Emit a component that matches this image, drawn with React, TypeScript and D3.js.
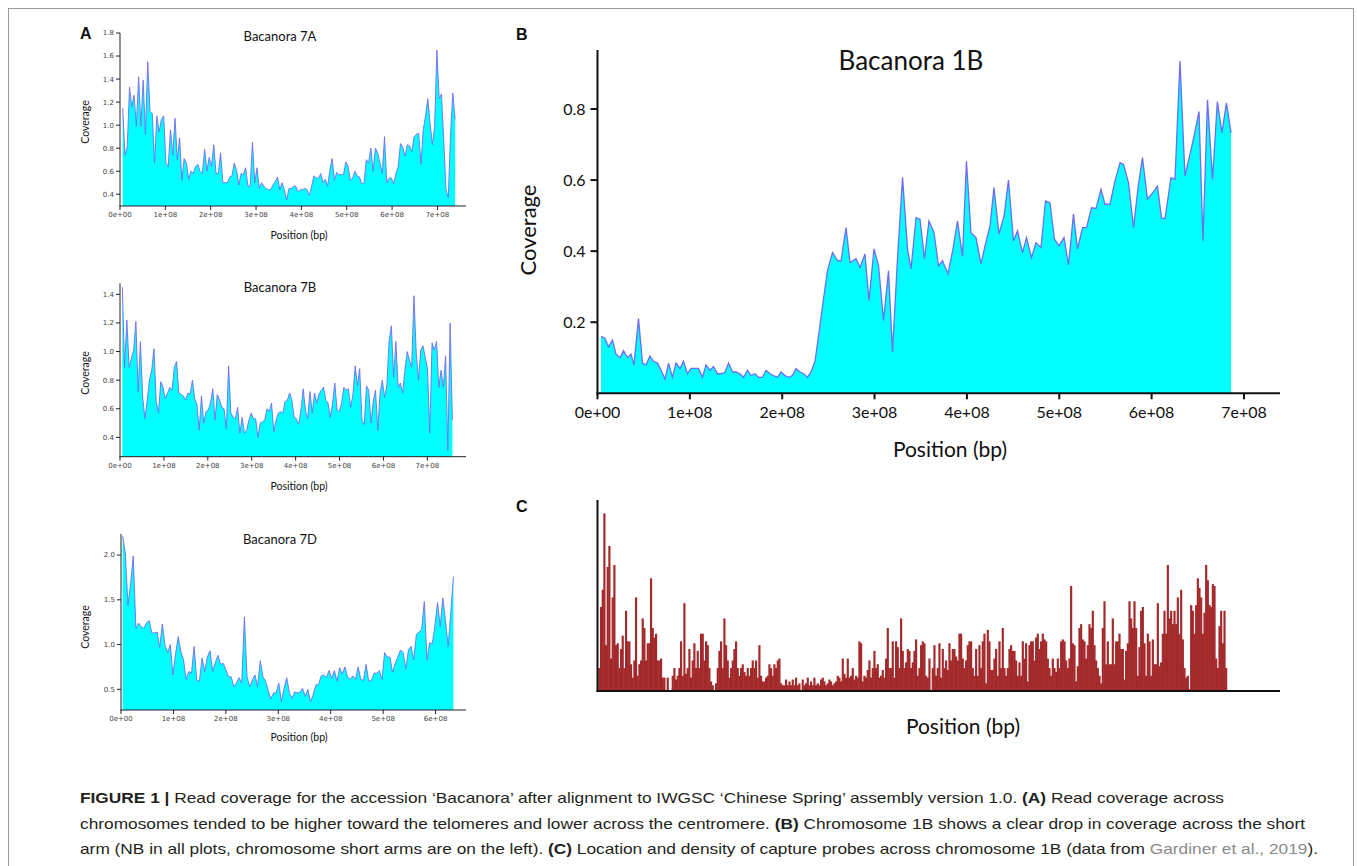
import React from 'react';
import * as d3 from 'd3';

const W = 1357;
const H = 866;

// coverage windows, evenly spaced between first and last window (Mb)
const span7A = [5.9, 739];
const cov7A = [
  1.15, 0.74, 0.81, 1.33, 1.16, 1.26, 0.99, 1.42, 0.99, 1.39, 0.92, 1.55, 1.12, 1.1, 0.67, 1.08, 0.94, 1.05, 1.08, 0.67,
  0.64, 0.96, 0.74, 1.06, 0.7, 0.89, 0.52, 0.71, 0.67, 0.53, 0.6, 0.58, 0.64, 0.66, 0.6, 0.58, 0.79, 0.6, 0.72, 0.64,
  0.83, 0.58, 0.58, 0.76, 0.5, 0.5, 0.5, 0.55, 0.56, 0.67, 0.61, 0.48, 0.58, 0.57, 0.63, 0.47, 0.47, 0.85, 0.5, 0.63,
  0.45, 0.5, 0.47, 0.45, 0.44, 0.44, 0.48, 0.51, 0.55, 0.44, 0.5, 0.44, 0.35, 0.45, 0.45, 0.47, 0.47, 0.42, 0.44, 0.44,
  0.45, 0.44, 0.39, 0.47, 0.56, 0.54, 0.54, 0.58, 0.5, 0.53, 0.47, 0.61, 0.71, 0.52, 0.59, 0.57, 0.57, 0.57, 0.68, 0.64,
  0.52, 0.54, 0.6, 0.56, 0.55, 0.49, 0.5, 0.7, 0.67, 0.8, 0.6, 0.8, 0.76, 0.67, 0.58, 0.9, 0.5, 0.54, 0.54, 0.49,
  0.58, 0.64, 0.84, 0.81, 0.73, 0.83, 0.82, 0.77, 0.9, 0.92, 0.93, 0.66, 0.96, 1.08, 1.23, 1.02, 0.83, 0.99, 1.65, 1.23,
  1.27, 0.87, 0.44, 0.37, 0.93, 1.28, 1.05,
];
const span7B = [5.3, 757];
const cov7B = [
  1.45, 0.89, 1.22, 0.89, 0.95, 1.01, 1.21, 0.72, 1.07, 0.68, 0.53, 0.66, 0.8, 0.87, 1.02, 0.65, 0.57, 0.79, 0.75, 0.67,
  0.71, 0.75, 0.73, 0.89, 0.93, 0.71, 0.7, 0.69, 0.66, 0.71, 0.7, 0.8, 0.67, 0.63, 0.45, 0.69, 0.5, 0.58, 0.59, 0.64,
  0.74, 0.52, 0.7, 0.66, 0.61, 0.6, 0.46, 0.9, 0.57, 0.54, 0.53, 0.61, 0.43, 0.54, 0.43, 0.45, 0.52, 0.57, 0.53, 0.53,
  0.4, 0.5, 0.51, 0.52, 0.6, 0.58, 0.64, 0.44, 0.52, 0.57, 0.58, 0.57, 0.65, 0.66, 0.71, 0.66, 0.54, 0.53, 0.49, 0.59,
  0.74, 0.59, 0.53, 0.72, 0.57, 0.71, 0.64, 0.7, 0.73, 0.75, 0.66, 0.64, 0.54, 0.64, 0.78, 0.59, 0.58, 0.64, 0.75, 0.73,
  0.74, 0.61, 0.7, 0.9, 0.76, 0.88, 0.52, 0.49, 0.76, 0.73, 0.5, 0.65, 0.73, 0.45, 0.71, 0.8, 0.68, 0.76, 1.07, 1.18,
  0.82, 1.07, 0.75, 0.78, 0.71, 0.87, 1.0, 0.94, 0.89, 1.39, 0.99, 0.8, 1.01, 1.04, 0.96, 0.88, 0.43, 1.06, 1.01, 1.07,
  0.75, 0.87, 0.75, 0.97, 0.31, 1.2, 0.52,
];
const span7D = [3.2, 634];
const cov7D = [
  2.21, 2.02, 1.44, 1.68, 1.99, 1.18, 1.24, 1.2, 1.18, 1.24, 1.27, 1.13, 1.13, 1.14, 0.97, 1.23, 0.99, 0.91, 1.0, 0.66,
  0.9, 1.09, 0.92, 0.83, 0.61, 0.7, 0.68, 0.98, 0.6, 0.59, 0.85, 0.7, 0.86, 0.93, 0.7, 0.8, 0.88, 0.78, 0.79, 0.72,
  0.64, 0.64, 0.53, 0.57, 0.63, 0.57, 1.31, 0.64, 0.53, 0.6, 0.66, 0.53, 0.82, 0.64, 0.59, 0.49, 0.39, 0.46, 0.46, 0.57,
  0.36, 0.51, 0.63, 0.46, 0.4, 0.47, 0.46, 0.47, 0.51, 0.42, 0.5, 0.36, 0.44, 0.55, 0.55, 0.65, 0.66, 0.63, 0.71, 0.62,
  0.71, 0.59, 0.74, 0.67, 0.75, 0.64, 0.61, 0.65, 0.61, 0.75, 0.61, 0.6, 0.78, 0.59, 0.6, 0.68, 0.68, 0.71, 0.61, 0.91,
  0.86, 0.86, 0.69, 0.79, 0.86, 0.94, 0.91, 0.73, 0.94, 0.98, 0.83, 1.11, 1.14, 1.17, 1.48, 0.83, 1.02, 1.01, 1.21, 1.47,
  1.2, 1.52, 1.27, 0.98, 1.35, 1.76,
];

// chromosome 1B coverage: [position Mb, coverage]
const cov1B: [number, number][] = [
  [3.8, 0.16], [8.1, 0.155], [11.9, 0.13], [16.2, 0.15], [20.0, 0.11], [24.4, 0.1], [28.2, 0.12], [32.5, 0.1],
  [36.3, 0.11], [39.5, 0.08], [44.4, 0.21], [48.7, 0.085], [52.5, 0.08], [56.8, 0.105], [60.6, 0.09], [65.0, 0.085],
  [68.8, 0.065], [73.1, 0.04], [76.9, 0.085], [81.2, 0.045], [85.0, 0.085], [89.3, 0.07], [93.1, 0.09], [97.5, 0.055],
  [101.2, 0.07], [105.6, 0.07], [109.4, 0.07], [113.7, 0.045], [117.5, 0.08], [121.8, 0.065], [125.6, 0.075],
  [129.9, 0.055], [133.7, 0.055], [138.1, 0.06], [141.9, 0.085], [146.2, 0.06], [150.0, 0.06], [154.3, 0.055],
  [158.1, 0.045], [162.4, 0.065], [166.2, 0.05], [170.5, 0.055], [174.3, 0.045], [178.7, 0.045], [182.5, 0.065],
  [186.8, 0.055], [190.6, 0.05], [194.9, 0.045], [198.7, 0.06], [203.0, 0.05], [206.8, 0.045], [211.1, 0.05],
  [214.9, 0.07], [219.3, 0.06], [223.1, 0.055], [227.4, 0.045], [231.2, 0.06], [235.5, 0.09], [239.3, 0.16],
  [244.7, 0.265], [249.0, 0.345], [254.5, 0.396], [259.9, 0.373], [263.7, 0.373], [269.1, 0.466], [273.4, 0.368],
  [279.9, 0.379], [284.2, 0.354], [289.6, 0.392], [294.0, 0.261], [299.4, 0.406], [304.3, 0.359], [309.7, 0.205],
  [315.1, 0.345], [319.4, 0.116], [324.8, 0.378], [330.3, 0.607], [335.7, 0.406], [339.5, 0.35], [344.9, 0.494],
  [349.2, 0.49], [354.1, 0.378], [358.9, 0.485], [364.4, 0.452], [369.2, 0.359], [373.6, 0.373], [379.5, 0.336],
  [384.9, 0.406], [389.8, 0.485], [395.2, 0.385], [399.5, 0.653], [404.4, 0.452], [409.8, 0.438], [415.3, 0.364],
  [419.6, 0.415], [425.0, 0.471], [429.3, 0.579], [434.7, 0.448], [440.2, 0.499], [445.0, 0.6], [450.4, 0.429],
  [454.8, 0.457], [460.2, 0.396], [464.5, 0.438], [469.9, 0.382], [474.8, 0.424], [480.2, 0.41], [485.1, 0.541],
  [489.9, 0.536], [494.8, 0.434], [499.7, 0.415], [505.1, 0.438], [510.0, 0.361], [515.4, 0.504], [519.7, 0.406],
  [525.2, 0.466], [529.5, 0.466], [534.9, 0.522], [539.8, 0.52], [545.2, 0.574], [549.5, 0.532], [554.9, 0.532],
  [560.3, 0.597], [565.8, 0.649], [569.6, 0.644], [575.0, 0.592], [580.4, 0.466], [585.3, 0.579], [590.1, 0.663],
  [595.5, 0.546], [599.9, 0.56], [606.4, 0.583], [610.7, 0.492], [614.5, 0.492], [621.0, 0.607], [625.3, 0.602],
  [630.7, 0.935], [636.1, 0.611], [645.9, 0.723], [651.3, 0.793], [655.6, 0.429], [660.5, 0.826], [665.9, 0.602],
  [671.2, 0.821], [676.1, 0.733], [681.0, 0.817], [686.0, 0.733],
];

// capture probes per bin along 1B
const probeStart = 0.87; // Mb
const probeBin = 1.805; // Mb
const probes1B = [
  12, 44, 53, 93, 24, 65, 76, 17, 49, 66, 24, 25, 12, 22, 29, 12, 42, 26, 26, 14,
  7, 16, 49, 8, 14, 16, 38, 33, 16, 25, 25, 59, 33, 28, 30, 16, 16, 17, 7, 7,
  0, 7, 0, 0, 8, 12, 6, 8, 12, 26, 8, 46, 9, 12, 22, 7, 16, 25, 12, 21,
  12, 30, 30, 16, 26, 24, 12, 5, 3, 0, 4, 12, 21, 26, 12, 38, 24, 16, 7, 12,
  16, 22, 26, 12, 8, 12, 14, 10, 8, 12, 8, 12, 16, 12, 16, 7, 24, 8, 5, 5,
  7, 8, 14, 12, 8, 14, 12, 16, 17, 4, 3, 3, 6, 3, 5, 3, 6, 3, 7, 3,
  4, 0, 6, 3, 4, 7, 3, 5, 3, 7, 3, 4, 3, 6, 7, 5, 3, 4, 6, 5,
  3, 4, 5, 8, 7, 5, 17, 9, 7, 17, 7, 8, 12, 6, 8, 7, 26, 25, 5, 8,
  7, 11, 16, 7, 12, 21, 12, 14, 7, 8, 11, 7, 17, 33, 12, 12, 26, 7, 26, 23,
  12, 38, 21, 12, 15, 22, 21,
  12, 15, 21, 27, 8, 12, 24, 26, 25, 8, 7, 17, 0, 12, 24, 8, 12, 25, 7, 22,
  12, 16, 11, 25, 16, 22, 22, 18, 16, 30, 30, 17, 12, 16, 24, 26, 26, 12, 8, 22,
  8, 24, 12, 26, 30, 4, 32, 26, 11, 11, 17, 22, 8, 26, 12, 33, 12, 8, 12, 22,
  24, 21, 21, 16, 8, 15, 8, 26, 17, 25, 5, 24, 26, 26, 16, 28, 30, 22, 26, 30,
  27, 26, 17, 12, 8, 17, 12, 10, 17, 12, 26, 27, 26, 16, 12, 17, 55, 25, 24, 5,
  13, 33, 35, 27, 26, 17, 24, 35, 33, 42, 24, 16, 12, 8, 4, 33, 47, 14, 26, 14,
  14, 38, 14, 26, 26, 30, 22, 22, 6, 21, 25, 47, 38, 33, 47, 33, 8, 23, 42, 44,
  25, 8, 30, 26, 8, 27, 14, 14, 46, 13, 15, 30, 42, 30, 66, 38, 42, 35, 42, 35,
  49, 30, 53, 27, 12, 7, 8, 1, 45, 42, 30, 45, 59, 54, 49, 30, 41, 66, 58, 45,
  44, 56, 55, 17, 12, 34, 42, 25, 42, 12,
];

const posTicks = [0, 1, 2, 3, 4, 5, 6, 7]; // x 1e8 bp
const posTickLabels = ['0e+00', '1e+08', '2e+08', '3e+08', '4e+08', '5e+08', '6e+08', '7e+08'];
const yTicks7A = [0.4, 0.6, 0.8, 1.0, 1.2, 1.4, 1.6, 1.8];
const yTicks7B = [0.4, 0.6, 0.8, 1.0, 1.2, 1.4];
const yTicks7D = [0.5, 1.0, 1.5, 2.0];
const yTicks1B = [0.2, 0.4, 0.6, 0.8];

const FILL = '#00ffff';
const EDGE = '#6d6df2';
const LATO = 'Lato, "Open Sans", sans-serif';
const fmt1 = d3.format('.1f');

function spread(span: number[], vals: number[]): [number, number][] {
  const step = (span[1] - span[0]) / (vals.length - 1);
  return vals.map((v, i) => [span[0] + i * step, v] as [number, number]);
}

type PanelProps = {
  pts: [number, number][];
  left: number; right: number; top: number; bottom: number;
  xMax: number; yMin: number; yMax: number;
  yTicks: number[]; nX: number;
  title: string; titleX: number; titleY: number;
  xLabelX: number; xLabelY: number; yLabelX: number; yLabelY: number;
  big?: boolean;
};

function CoveragePanel(p: PanelProps) {
  const x = d3.scaleLinear().domain([0, p.xMax * 1e6]).range([p.left, p.right]);
  const y = d3.scaleLinear().domain([p.yMin, p.yMax]).range([p.bottom, p.top]);
  const area = d3.area<[number, number]>().x(d => x(d[0] * 1e6)).y0(p.bottom).y1(d => y(d[1]));
  const line = d3.line<[number, number]>().x(d => x(d[0] * 1e6)).y(d => y(d[1]));
  const big = !!p.big;
  const sw = big ? 2 : 1;
  const axisCol = big ? '#111' : '#222';
  const tickFont = big ? LATO : '"DejaVu Sans", sans-serif';
  const tickSize = big ? 16 : 7;
  const tlY = big ? 7 : 4;
  const tlX = big ? 6 : 4;
  return (
    <g>
      <path d={area(p.pts) || ''} fill={FILL} />
      <path d={line(p.pts) || ''} fill="none" stroke={EDGE} strokeWidth={big ? 1.3 : 0.9} />
      <line x1={p.left} x2={p.left} y1={p.top} y2={p.bottom + sw / 2} stroke={axisCol} strokeWidth={sw} />
      <line x1={p.left - sw / 2} x2={p.right} y1={p.bottom} y2={p.bottom} stroke={axisCol} strokeWidth={sw} />
      {p.yTicks.map(t => (
        <g key={'y' + t}>
          <line x1={p.left - tlY} x2={p.left} y1={y(t)} y2={y(t)} stroke={axisCol} strokeWidth={sw} />
          <text x={p.left - tlY - (big ? 5 : 2)} y={y(t)} dy="0.35em" textAnchor="end"
            fontFamily={tickFont} fontSize={tickSize} fill={big ? '#111' : '#444'}>{fmt1(t)}</text>
        </g>
      ))}
      {posTicks.slice(0, p.nX).map((t, i) => (
        <g key={'x' + t}>
          <line x1={x(t * 1e8)} x2={x(t * 1e8)} y1={p.bottom} y2={p.bottom + tlX} stroke={axisCol} strokeWidth={sw} />
          <text x={x(t * 1e8)} y={p.bottom + (big ? 25 : 11)} textAnchor="middle"
            fontFamily={tickFont} fontSize={tickSize} fill={big ? '#111' : '#444'}>{posTickLabels[i]}</text>
        </g>
      ))}
      <text x={p.titleX} y={p.titleY} textAnchor="middle" fontFamily={LATO}
        fontSize={big ? 26 : 13} fill="#111">{p.title}</text>
      <text x={p.xLabelX} y={p.xLabelY} textAnchor="middle" fontFamily={LATO}
        fontSize={big ? 21 : 10.5} fill="#111">Position (bp)</text>
      <text transform={`translate(${p.yLabelX},${p.yLabelY}) rotate(-90)`} textAnchor="middle"
        dominantBaseline="central" fontFamily={LATO} fontSize={big ? 22 : 10.5} fill="#111">Coverage</text>
    </g>
  );
}

function ProbePanel() {
  const left = 597.5, right = 1280, top = 500, bottom = 691;
  const x = d3.scaleLinear().domain([0, 739e6]).range([left, right]);
  const y = d3.scaleLinear().domain([0, 100]).range([bottom, top]);
  const bw = x(probeBin * 1e6) - x(0);
  return (
    <g>
      {probes1B.map((c, i) => (
        c > 0 ? <rect key={i} x={x((probeStart + i * probeBin) * 1e6)} y={y(c)} width={bw + 0.5} height={bottom - y(c)}
          fill="#a3292b" /> : null
      ))}
      <line x1={left} x2={left} y1={top} y2={bottom + 1} stroke="#111" strokeWidth={2} />
      <line x1={left - 1} x2={right} y1={bottom} y2={bottom} stroke="#111" strokeWidth={2} />
      <text x={963} y={734} textAnchor="middle" fontFamily={LATO} fontSize={21} fill="#111">Position (bp)</text>
    </g>
  );
}

function Caption() {
  const fam = '"Liberation Sans", Arial, sans-serif';
  const col = '#231f20';
  const x0 = 80;
  return (
    <g fontFamily={fam} fontSize={15} fill={col}>
      <text x={x0} y={803} textLength={1144} lengthAdjust="spacingAndGlyphs">
        <tspan fontWeight="bold">FIGURE 1 |</tspan>
        <tspan> Read coverage for the accession ‘Bacanora’ after alignment to IWGSC ‘Chinese Spring’ assembly version 1.0. </tspan>
        <tspan fontWeight="bold">(A)</tspan>
        <tspan> Read coverage across</tspan>
      </text>
      <text x={x0} y={829} textLength={1225} lengthAdjust="spacingAndGlyphs">
        <tspan>chromosomes tended to be higher toward the telomeres and lower across the centromere. </tspan>
        <tspan fontWeight="bold">(B)</tspan>
        <tspan> Chromosome 1B shows a clear drop in coverage across the short</tspan>
      </text>
      <text x={x0} y={854} textLength={1238} lengthAdjust="spacingAndGlyphs">
        <tspan>arm (NB in all plots, chromosome short arms are on the left). </tspan>
        <tspan fontWeight="bold">(C)</tspan>
        <tspan> Location and density of capture probes across chromosome 1B (data from </tspan>
        <tspan fill="#8a8a8a">Gardiner et al., 2019</tspan>
        <tspan>).</tspan>
      </text>
    </g>
  );
}

export default function App() {
  const letter = { fontFamily: '"Liberation Sans", Arial, sans-serif', fontWeight: 700, fontSize: 16, fill: '#111' };
  return (
    <svg width={W} height={H} viewBox={`0 0 ${W} ${H}`}
      style={{ position: 'absolute', left: 0, top: 0, background: '#fff' }}>
      <rect x={0} y={0} width={W} height={H} fill="#fff" />
      <rect x={8.5} y={8.5} width={1345} height={880} fill="none" stroke="#999" strokeWidth={1} />
      <text x={80} y={39} {...letter}>A</text>
      <text x={516} y={40} {...letter}>B</text>
      <text x={516} y={512} {...letter}>C</text>

      <CoveragePanel pts={spread(span7A, cov7A)} left={120} right={466} top={33} bottom={206}
        xMax={763} yMin={0.298} yMax={1.8} yTicks={yTicks7A} nX={8}
        title="Bacanora 7A" titleX={280} titleY={41} xLabelX={299} xLabelY={239} yLabelX={85} yLabelY={122} />
      <CoveragePanel pts={spread(span7B, cov7B)} left={120} right={466} top={283.3} bottom={456.7}
        xMax={788} yMin={0.265} yMax={1.477} yTicks={yTicks7B} nX={8}
        title="Bacanora 7B" titleX={280} titleY={292} xLabelX={299} xLabelY={490} yLabelX={85} yLabelY={373} />
      <CoveragePanel pts={spread(span7D, cov7D)} left={121} right={466} top={534} bottom={710}
        xMax={658} yMin={0.269} yMax={2.235} yTicks={yTicks7D} nX={7}
        title="Bacanora 7D" titleX={280} titleY={544} xLabelX={299} xLabelY={741} yLabelX={85} yLabelY={627} />
      <CoveragePanel pts={cov1B} left={597.5} right={1280} top={50} bottom={393.3}
        xMax={739} yMin={0} yMax={0.966} yTicks={yTicks1B} nX={8} big
        title="Bacanora 1B" titleX={911} titleY={70} xLabelX={950} xLabelY={457} yLabelX={527} yLabelY={230} />
      <ProbePanel />
      <Caption />
    </svg>
  );
}
